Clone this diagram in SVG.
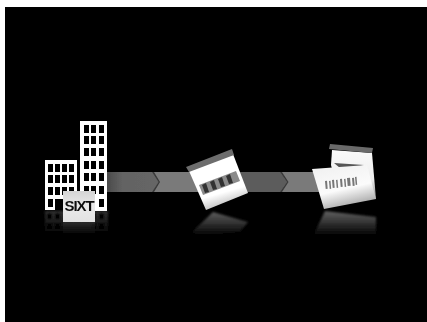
<svg xmlns="http://www.w3.org/2000/svg" width="427" height="322" viewBox="0 0 427 322">
<style>
.w{fill:#050505}
.b{fill:#fff}
.text{font-family:"Liberation Sans",Arial,sans-serif;font-weight:700}
</style>
<defs>
<filter id="s" x="-10%" y="-10%" width="120%" height="120%"><feGaussianBlur stdDeviation="0.6"/></filter>
<filter id="s2" x="-15%" y="-15%" width="130%" height="130%"><feGaussianBlur stdDeviation="1.1"/></filter>
<linearGradient id="card" gradientUnits="userSpaceOnUse" x1="218" y1="160" x2="232" y2="208"><stop offset="0" stop-color="#fff"/><stop offset=".65" stop-color="#fff"/><stop offset="1" stop-color="#b0b0b0"/></linearGradient>
<linearGradient id="card3" gradientUnits="userSpaceOnUse" x1="340" y1="165" x2="350" y2="208"><stop offset="0" stop-color="#f2f2f2"/><stop offset=".55" stop-color="#fbfbfb"/><stop offset="1" stop-color="#a4a4a4"/></linearGradient>
<linearGradient id="card2" x1="0" y1="0" x2="0" y2="1"><stop offset="0" stop-color="#fafafa"/><stop offset=".6" stop-color="#eee"/><stop offset="1" stop-color="#8c8c8c"/></linearGradient>
<linearGradient id="sx" x1="0" y1="0" x2="0" y2="1"><stop offset="0" stop-color="#d4d4d4"/><stop offset=".5" stop-color="#eaeaea"/><stop offset="1" stop-color="#e2e2e2"/></linearGradient>
<linearGradient id="r" gradientUnits="userSpaceOnUse" x1="0" y1="212" x2="0" y2="236"><stop offset="0" stop-color="#5c5c5c"/><stop offset="1" stop-color="#000"/></linearGradient>
<linearGradient id="r2" x1="0" y1="0" x2="0" y2="1"><stop offset="0" stop-color="#333"/><stop offset="1" stop-color="#000"/></linearGradient>
<linearGradient id="a1" x1="0" y1="0" x2="1" y2="0"><stop offset="0" stop-color="#4a4a4a"/><stop offset=".3" stop-color="#636363"/><stop offset="1" stop-color="#666"/></linearGradient>
</defs>
<rect width="427" height="322" fill="#fff"/>
<rect x="5" y="7" width="422" height="315" fill="#000"/>
<g id="connectors" filter="url(#s)">
<rect x="107" y="172" width="225" height="20" fill="#7a7a7a"/>
<path d="M107 172H152L158.500 182L152 192H107Z" fill="url(#a1)"/>
<path d="M152 172L158.500 182L152 192H154L160 182L154 172Z" fill="#3a3a3a"/>
<path d="M240 172H280L287 182L280 192H240Z" fill="#5c5c5c"/>
<path d="M280 172L287 182L280 192H282L288.500 182L282 172Z" fill="#3a3a3a"/>
</g>
<g id="sixt-office">
<g filter="url(#s2)">
<rect x="45" y="211" width="63" height="23" fill="url(#r2)"/>
<g class="w">
<rect x="47" y="213" width="5" height="6"/><rect x="55" y="213" width="5" height="6"/><rect x="84" y="213" width="5" height="6"/><rect x="91" y="213" width="5" height="6"/><rect x="99" y="213" width="5" height="6"/>
<rect x="47" y="223" width="5" height="6"/><rect x="55" y="223" width="5" height="6"/><rect x="99" y="223" width="5" height="6"/><rect x="91" y="223" width="5" height="6"/>
</g>
</g>
<g filter="url(#s)">
<rect x="45" y="160" width="32" height="50" class="b"/>
<rect x="80" y="121" width="27" height="90" class="b"/>
<g class="w">
<rect x="48" y="164" width="5" height="8"/><rect x="55" y="164" width="5" height="8"/><rect x="62" y="164" width="5" height="8"/><rect x="69" y="164" width="5" height="8"/>
<rect x="48" y="175" width="5" height="8"/><rect x="55" y="175" width="5" height="8"/><rect x="62" y="175" width="5" height="8"/><rect x="69" y="175" width="5" height="8"/>
<rect x="48" y="187" width="5" height="8"/><rect x="55" y="187" width="5" height="8"/><rect x="62" y="187" width="5" height="8"/><rect x="69" y="187" width="5" height="8"/>
<rect x="48" y="199" width="5" height="8"/>
<rect x="55" y="199" width="8" height="11"/>
<rect x="84" y="125" width="5" height="8"/><rect x="91" y="125" width="5" height="8"/><rect x="99" y="125" width="5" height="8"/>
<rect x="84" y="136" width="5" height="8"/><rect x="91" y="136" width="5" height="8"/><rect x="99" y="136" width="5" height="8"/>
<rect x="84" y="148" width="5" height="8"/><rect x="91" y="148" width="5" height="8"/><rect x="99" y="148" width="5" height="8"/>
<rect x="84" y="161" width="5" height="8"/><rect x="91" y="161" width="5" height="8"/><rect x="99" y="161" width="5" height="8"/>
<rect x="84" y="173" width="5" height="8"/><rect x="91" y="173" width="5" height="8"/><rect x="99" y="173" width="5" height="8"/>
<rect x="84" y="186" width="5" height="8"/><rect x="91" y="186" width="5" height="8"/><rect x="99" y="186" width="5" height="8"/>
<rect x="99" y="199" width="5" height="8"/>
</g>
<rect x="63" y="191" width="32" height="31" fill="url(#sx)"/>
<rect x="63" y="222" width="32" height="11" fill="url(#r)" opacity=".6"/>
<text class="text" x="79" y="211" font-size="14" text-anchor="middle" textLength="29" lengthAdjust="spacingAndGlyphs" fill="#111" letter-spacing="-1">SIXT</text>
</g>
</g>
<g id="vehicle-card">
<path d="M192 232L213 212L248 222L240 232L200 236Z" fill="url(#r)" filter="url(#s2)"/>
<g filter="url(#s)">
<path d="M189 171L233 154L248 193L206 210Z" fill="url(#card)"/>
<path d="M186 167L232 149L234 155L189 172Z" fill="#6d6d6d"/>
<path d="M199 185L236 171L240 181L203 195Z" fill="#8a8a8a"/>
<g fill="#333"><path d="M202 185L206 183L209 192L205 193Z"/><path d="M210 182L214 180L217 189L213 190Z"/><path d="M218 179L222 177L225 186L221 187Z"/><path d="M226 176L230 174L233 183L229 184Z"/></g>
</g>
</g>
<g id="document-stack">
<path d="M313 236L325 211L376 217L376 238L316 240Z" fill="url(#r)" filter="url(#s2)"/>
<g filter="url(#s)">
<path d="M332 150L372 153L376 199L340 199L331 165Z" fill="url(#card2)"/>
<path d="M330 144L373 148L372 153L329 149Z" fill="#6b6b6b"/>
<path d="M334 163L364 165L352 169L340 168Z" fill="#555"/>
<path d="M312 169L367 165L376 199L324 209Z" fill="url(#card3)"/>
<g fill="#777"><rect x="325" y="181" width="2" height="8" transform="rotate(-5 325 181)"/><rect x="329" y="181" width="1.500" height="8" transform="rotate(-5 329 181)"/><rect x="332" y="180" width="2" height="8" transform="rotate(-5 332 180)"/><rect x="336" y="180" width="1.500" height="8" transform="rotate(-5 336 180)"/><rect x="340" y="179" width="2" height="8" transform="rotate(-5 340 179)"/><rect x="344" y="179" width="1.500" height="8" transform="rotate(-5 344 179)"/><rect x="347" y="178" width="3" height="8" transform="rotate(-5 347 178)"/><rect x="352" y="178" width="2" height="8" transform="rotate(-5 352 178)"/><rect x="355" y="177" width="1.500" height="8" transform="rotate(-5 355 177)"/></g>
</g>
</g>
</svg>
